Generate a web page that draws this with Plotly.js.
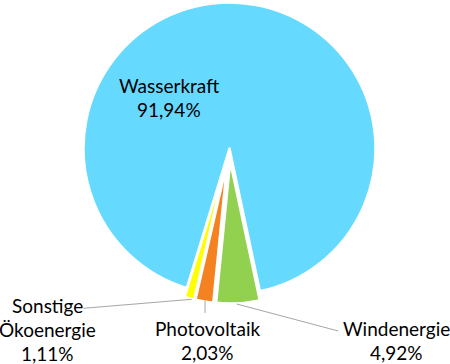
<!DOCTYPE html>
<html>
<head>
<meta charset="utf-8">
<script src="https://cdn.plot.ly/plotly-3.0.1.min.js"></script>
<style>html,body{margin:0;padding:0;background:#fff;}#chart{width:450px;height:364px;}</style>
</head>
<body>
<div id="chart"></div>
<script>
// ---- data ----
const labels = ['Wasserkraft', 'Windenergie', 'Photovoltaik', 'Sonstige Ökoenergie'];
const values = [91.94, 4.92, 2.03, 1.11];
const colors = ['#66D9FF', '#92D050', '#F58220', '#FFFF00'];

// ---- geometry (pixels) ----
const W = 450, H = 364;
const cx = 229.5, cy = 148.5;
const rBig = 146, rSmall = 142, pullPx = 13;
const startDeg = 197; // clockwise from 12 o'clock where first slice starts
const rotation = startDeg - 360;

function domainFor(X, Y, r) {
  return {x: [(X - r) / W, (X + r) / W], y: [1 - (Y + r) / H, 1 - (Y - r) / H]};
}

const total = values.reduce((a, b) => a + b, 0);
const traces = [];
let cum = 0;
for (let i = 0; i < values.length; i++) {
  const a0 = startDeg + cum / total * 360;
  const a1 = a0 + values[i] / total * 360;
  cum += values[i];
  const mid = (a0 + a1) / 2 * Math.PI / 180;
  const pulled = i > 0;
  const X = cx + (pulled ? pullPx * Math.sin(mid) : 0);
  const Y = cy + (pulled ? -pullPx * Math.cos(mid) : 0);
  const r = pulled ? rSmall : rBig;
  traces.push({
    type: 'pie',
    labels: labels,
    values: values,
    sort: false,
    direction: 'clockwise',
    rotation: rotation,
    textinfo: 'none',
    hoverinfo: 'label+percent',
    showlegend: false,
    domain: domainFor(X, Y, r),
    marker: {
      colors: colors.map((c, j) => j === i ? c : 'rgba(0,0,0,0)'),
      line: {color: '#ffffff', width: values.map((v, j) => j === i ? 2.5 : 0)}
    }
  });
}

// ---- label positions (pixels, centre of first line) ----
const labelPos = [[169, 85], [396, 328], [207, 328], [47.5, 305]];
const lineGap = 24;
const fmt = v => v.toFixed(2).replace('.', ',') + '%';
const annotations = [];
labels.forEach((lab, i) => {
  const lines = (i === 0 ? [lab] : lab.split(' ')).concat([fmt(values[i])]);
  lines.forEach((t, k) => {
    annotations.push({
      text: t, showarrow: false, xref: 'paper', yref: 'paper',
      x: labelPos[i][0] / W, y: 1 - (labelPos[i][1] + k * lineGap) / H,
      xanchor: 'center', yanchor: 'middle',
      font: {family: 'Lato, sans-serif', size: 19, color: '#000000'}
    });
  });
});

// leader lines
const leaders = [
  [[83.3, 308.3], [191.7, 299.3]],
  [[205, 300.5], [205, 313]],
  [[236.7, 304], [338.3, 331]]
];
const shapes = leaders.map(l => ({
  type: 'line', xref: 'paper', yref: 'paper',
  x0: l[0][0] / W, y0: 1 - l[0][1] / H, x1: l[1][0] / W, y1: 1 - l[1][1] / H,
  line: {color: '#A6A6A6', width: 1}
}));

Plotly.newPlot('chart', traces, {
  width: W, height: H,
  margin: {l: 0, r: 0, t: 0, b: 0},
  paper_bgcolor: '#ffffff',
  annotations: annotations,
  shapes: shapes
}, {displayModeBar: false, staticPlot: true});
</script>
</body>
</html>
